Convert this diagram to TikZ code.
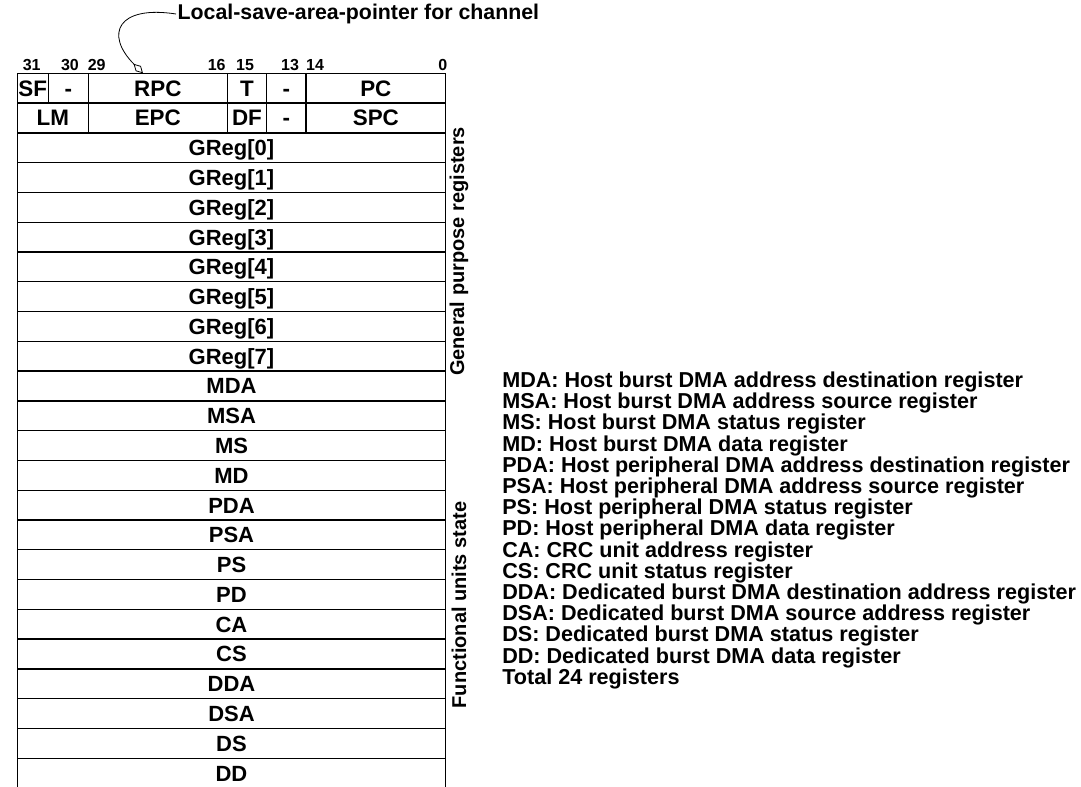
\documentclass[tikz,border=0pt]{standalone}
\usepackage{fontspec}
\setmainfont{Liberation Sans}
\usetikzlibrary{arrows.meta, positioning}
\tikzset{
  champ/.style={rectangle, draw, line width=1pt, inner sep=0pt, outer sep=0pt,
    minimum height=22.335pt, text height=11.9pt, text depth=0pt,
    font=\fontsize{16.8}{20}\selectfont\bfseries},
  registre/.style={champ, minimum width=321.3pt, font=\fontsize{16.5}{20}\selectfont\bfseries},
  numbit/.style={inner sep=0pt, text height=8.6pt, text depth=0pt,
    font=\fontsize{12}{14}\selectfont\bfseries},
  groupe/.style={rotate=90, inner sep=0pt, font=\fontsize{15}{17}\selectfont\bfseries},
  legende/.style={anchor=west, inner sep=0pt, font=\fontsize{16.2}{19}\selectfont\bfseries},
  titre/.style={anchor=west, inner sep=1pt, font=\fontsize{16}{19}\selectfont\bfseries},
  pointeur/.style={-{Diamond[open, length=10pt, width=5.5pt]}, line width=0.6pt},
}

\begin{document}
\begin{tikzpicture}[x=0.75pt, y=-0.75pt]
    \useasboundingbox (0,0) rectangle (1081,787);

    % numeros de bits
    \node[numbit] (b31) at (31.7,64.5) {31};
    \node[numbit] (b30) at (70,64.5) {30};
    \node[numbit] (b29) at (96.7,64.5) {29};
    \node[numbit] (b16) at (216.7,64.5) {16};
    \node[numbit] (b15) at (245,64.5) {15};
    \node[numbit] (b13) at (290,64.5) {13};
    \node[numbit] (b14) at (315,64.5) {14};
    \node[numbit] (b0) at (442.7,64.5) {0};

    % mot d'etat du canal
    \node[champ, minimum width=31*0.75pt, anchor=north west] (sf) at (17.3,73.3) {SF};
    \node[champ, minimum width=40*0.75pt, right=0pt of sf] (vide1) {-};
    \node[champ, minimum width=139*0.75pt, right=0pt of vide1] (rpc) {RPC};
    \node[champ, minimum width=39.4*0.75pt, right=0pt of rpc] (t) {T};
    \node[champ, minimum width=39.3*0.75pt, right=0pt of t] (vide2) {-};
    \node[champ, minimum width=139.7*0.75pt, right=0pt of vide2] (pc) {PC};

    \node[champ, minimum width=71*0.75pt, anchor=north west] (lm) at (sf.south west) {LM};
    \node[champ, minimum width=139*0.75pt, right=0pt of lm] (epc) {EPC};
    \node[champ, minimum width=39.4*0.75pt, right=0pt of epc] (df) {DF};
    \node[champ, minimum width=39.3*0.75pt, right=0pt of df] (vide3) {-};
    \node[champ, minimum width=139.7*0.75pt, right=0pt of vide3] (spc) {SPC};

    % registres generaux
    \node[registre, anchor=north west] (g0) at (lm.south west) {GReg[0]};
    \foreach \i [remember=\i as \j (initially 0)] in {1,...,7}
      \node[registre, below=0pt of g\j] (g\i) {GReg[\i]};

    % etat des unites fonctionnelles
    \foreach \nom [remember=\nom as \prec (initially g7)] in
      {MDA,MSA,MS,MD,PDA,PSA,PS,PD,CA,CS,DDA,DSA,DS,DD}
      \node[registre, below=0pt of \prec] (\nom) {\nom};

    \node[groupe] (gpr) at (459,251.5) {General purpose registers};
    \node[groupe] (fus) at (459,605) {Functional units state};

    % pointeur vers la zone de sauvegarde
    \node[titre] (titre) at (176,14) {Local-save-area-pointer for channel};
    \coordinate (lsa) at (143,73.3);
    \draw[pointeur] (titre.west) .. controls (118,5) and (104,34) .. (lsa);

    % legende
    \foreach \ligne [count=\k] in {
      MDA: Host burst DMA address destination register,
      MSA: Host burst DMA address source register,
      MS: Host burst DMA status register,
      MD: Host burst DMA data register,
      PDA: Host peripheral DMA address destination register,
      PSA: Host peripheral DMA address source register,
      PS: Host peripheral DMA status register,
      PD: Host peripheral DMA data register,
      CA: CRC unit address register,
      CS: CRC unit status register,
      DDA: Dedicated burst DMA destination address register,
      DSA: Dedicated burst DMA source address register,
      DS: Dedicated burst DMA status register,
      DD: Dedicated burst DMA data register,
      Total 24 registers}
      \node[legende] (leg\k) at (502,{382+21.2*(\k-1)}) {\ligne};
\end{tikzpicture}
\end{document}
